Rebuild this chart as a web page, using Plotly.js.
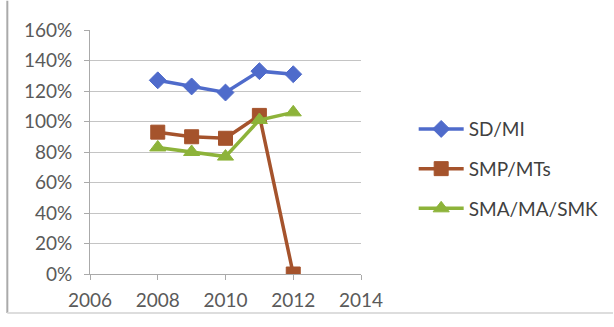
<!DOCTYPE html>
<html>
<head>
<meta charset="utf-8">
<script src="https://cdn.plot.ly/plotly-3.0.1.min.js"></script>
<style>html,body{margin:0;padding:0;background:#fff;}#chart{width:614px;height:327px;}</style>
</head>
<body>
<div id="chart"></div>
<script>
const years = [2008, 2009, 2010, 2011, 2012];
const seriesNames = ["SD/MI", "SMP/MTs", "SMA/MA/SMK"];
const sdMi = [1.27, 1.23, 1.19, 1.33, 1.31];
const smpMts = [0.93, 0.90, 0.89, 1.04, 0.0];
const smaMaSmk = [0.83, 0.80, 0.77, 1.01, 1.06];
const xTicks = [2006, 2008, 2010, 2012, 2014];
const yTicks = [0, 0.2, 0.4, 0.6, 0.8, 1.0, 1.2, 1.4, 1.6];

const colors = ["#4F6BCB", "#A5532C", "#8DB33A"];
const symbols = ["diamond", "square", "triangle-up"];
const values = [sdMi, smpMts, smaMaSmk];

const traces = values.map((v, i) => ({
  x: years, y: v, name: seriesNames[i], type: "scatter", mode: "lines+markers",
  legendgroup: "g" + i,
  line: {color: colors[i], width: 3.5},
  marker: {symbol: symbols[i], size: i === 0 ? 13 : 14, color: colors[i],
           line: {color: colors[i], width: 1}}
}));

const layout = {
  width: 614, height: 327,
  margin: {l: 90, r: 252, t: 30, b: 53},
  paper_bgcolor: "#fff", plot_bgcolor: "#fff",
  font: {family: "Lato, 'Open Sans', sans-serif", size: 19, color: "#5a5a5a"},
  showlegend: true,
  legend: {x: 1.19, xanchor: "left", y: 0.43, yanchor: "middle",
           font: {size: 19, color: "#404040"}, traceorder: "grouped",
           tracegroupgap: 12, itemwidth: 45, bgcolor: "rgba(0,0,0,0)"},
  xaxis: {range: [2006, 2014], tickvals: xTicks, ticktext: xTicks.map(String),
          showgrid: false, zeroline: false, showline: true, linecolor: "#aaa", linewidth: 1,
          ticks: "outside", ticklen: 5, tickcolor: "#aaa", ticklabelstandoff: 4, fixedrange: true},
  yaxis: {range: [0, 1.6], tickvals: yTicks, tickformat: ".0%",
          showgrid: true, gridcolor: "#c4c4c4", gridwidth: 1, zeroline: false,
          showline: true, linecolor: "#aaa", linewidth: 1,
          ticks: "outside", ticklen: 5, tickcolor: "#aaa", ticklabelstandoff: 8, fixedrange: true},
  shapes: [
    {type: "line", xref: "paper", yref: "paper", x0: -0.3051, x1: -0.3051, y0: 1.12, y1: -0.16,
     line: {color: "#aaa", width: 2}},
    {type: "line", xref: "paper", yref: "paper", x0: -0.3051, x1: 1.93, y0: -0.16, y1: -0.16,
     line: {color: "#ddd", width: 2}}
  ]
};

Plotly.newPlot("chart", traces, layout, {displayModeBar: false, staticPlot: true});
</script>
</body>
</html>
